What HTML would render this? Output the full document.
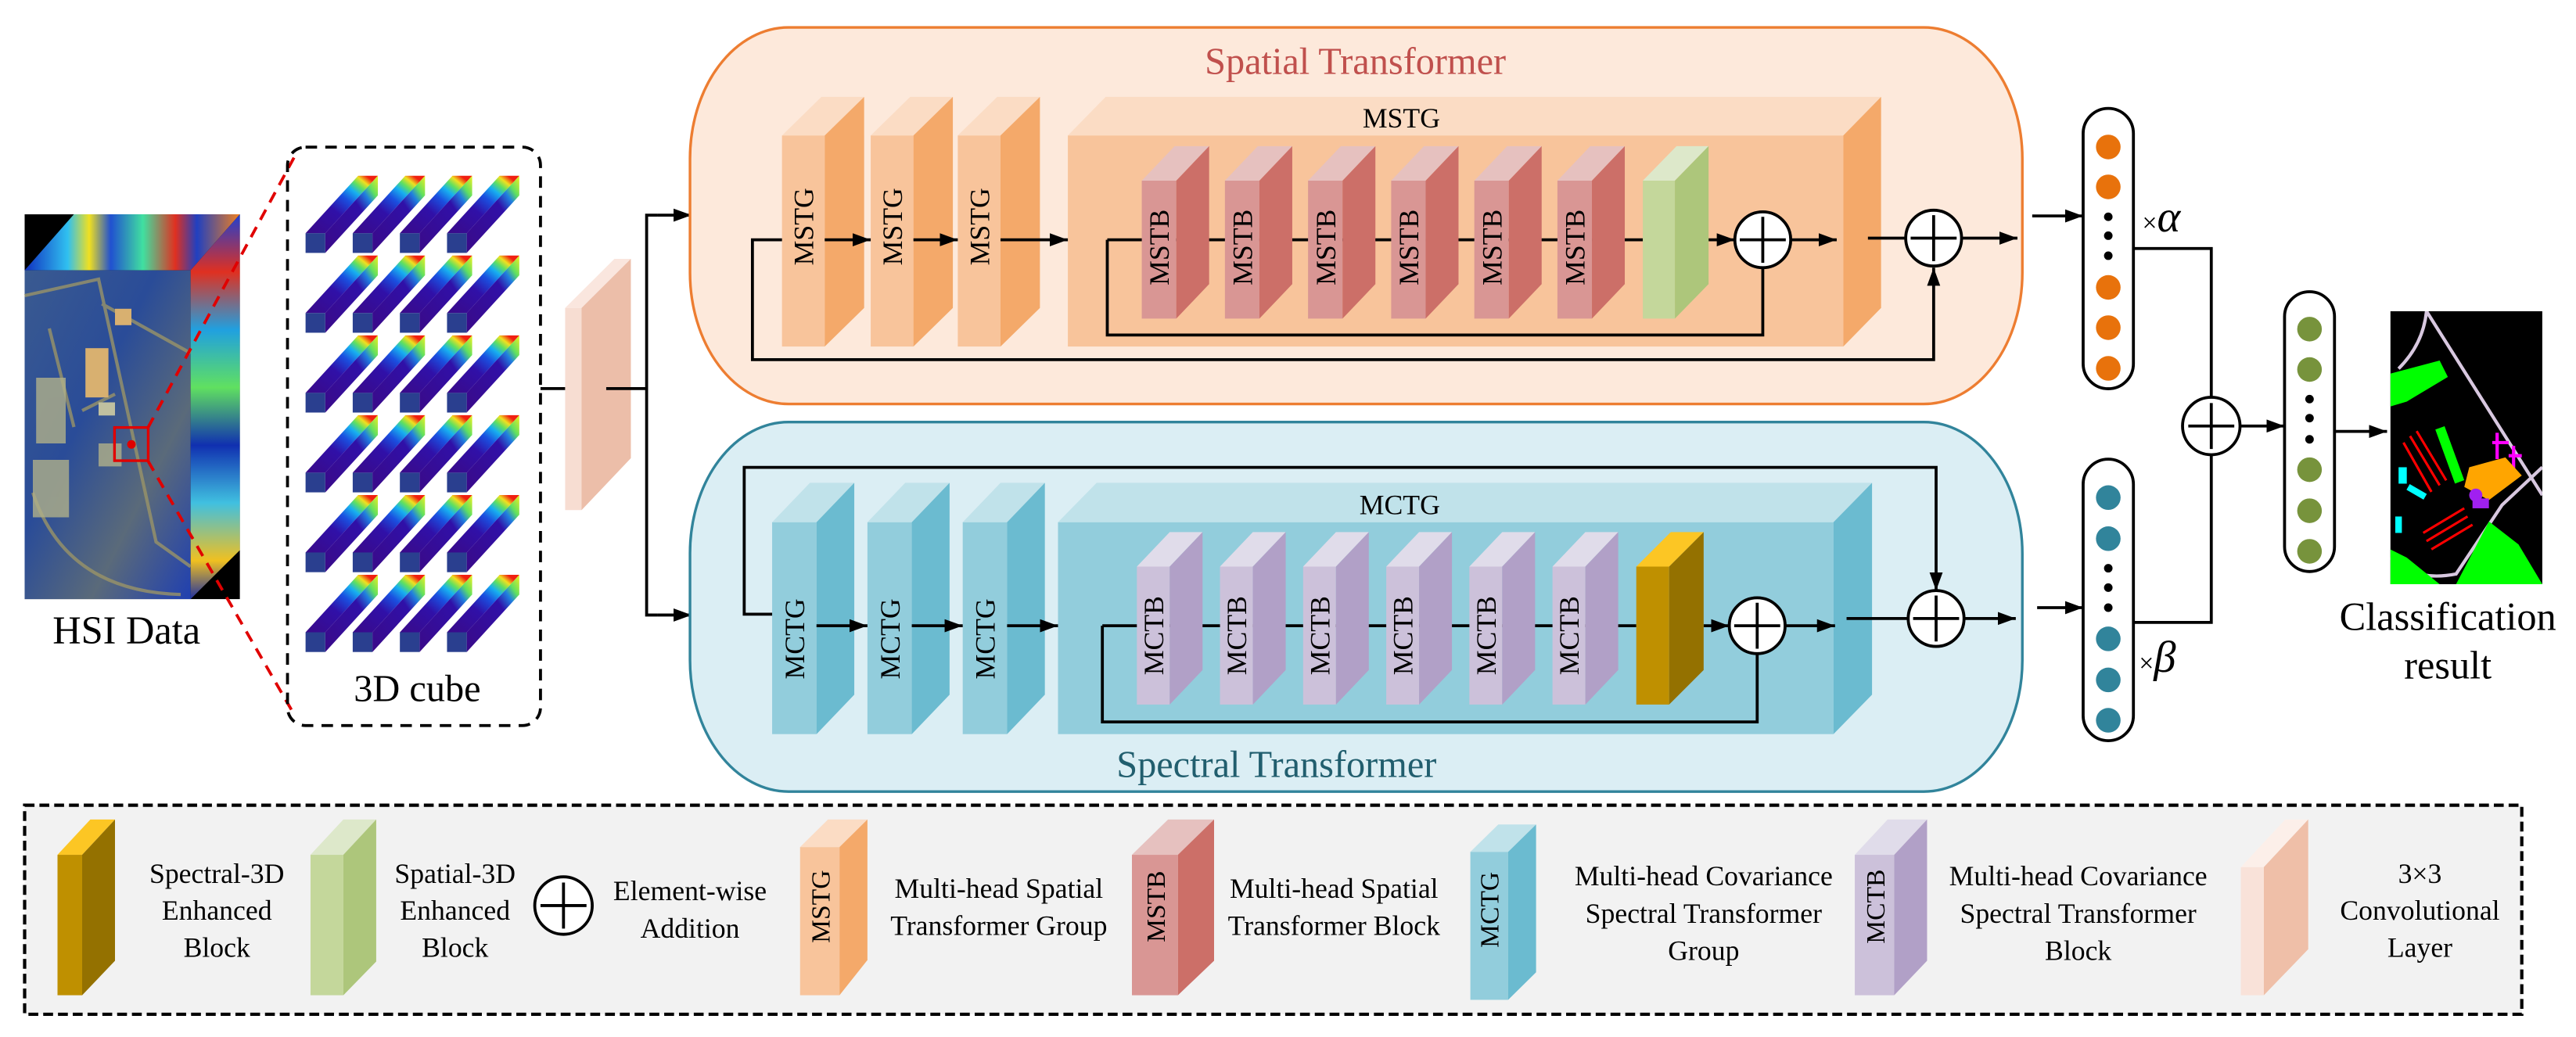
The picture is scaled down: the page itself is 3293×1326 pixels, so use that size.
<!DOCTYPE html>
<html><head><meta charset="utf-8"><style>html,body{margin:0;padding:0;background:#fff}svg{display:block}svg,svg text,svg tspan{font-family:"Liberation Serif","Times New Roman",Times,"DejaVu Serif",serif !important}</style></head>
<body>
<svg xmlns="http://www.w3.org/2000/svg" width="3293" height="1326" viewBox="0 0 1568 631.43" preserveAspectRatio="none" style="font-family:'Liberation Serif','Times New Roman',Times,serif">
<defs>
<marker id="a" viewBox="0 0 11 8" refX="11" refY="4" markerWidth="11" markerHeight="8" markerUnits="userSpaceOnUse" orient="auto"><path d="M0,0 L11,4 L0,8 z" fill="#000"/></marker>
<linearGradient id="ct" x1="0" y1="1" x2="1" y2="0"><stop offset="0" stop-color="#3a0a88"/><stop offset=".4" stop-color="#3010a8"/><stop offset=".58" stop-color="#1a50e0"/><stop offset=".7" stop-color="#18b0f0"/><stop offset=".78" stop-color="#60e060"/><stop offset=".85" stop-color="#f0e020"/><stop offset=".92" stop-color="#f02010"/></linearGradient>
<linearGradient id="cs" x1="0" y1="1" x2="1" y2="0"><stop offset="0" stop-color="#3a0a88"/><stop offset=".62" stop-color="#3010a8"/><stop offset=".76" stop-color="#2080e0"/><stop offset=".85" stop-color="#60e060"/><stop offset="1" stop-color="#f0f020"/></linearGradient>
<linearGradient id="ht" x1="0" y1="0" x2="1" y2="0"><stop offset="0" stop-color="#1030c0"/><stop offset=".2" stop-color="#30c0f0"/><stop offset=".3" stop-color="#f0e020"/><stop offset=".4" stop-color="#2050d0"/><stop offset=".55" stop-color="#40e0a0"/><stop offset=".7" stop-color="#e03020"/><stop offset=".8" stop-color="#2040c0"/><stop offset="1" stop-color="#f08020"/></linearGradient>
<linearGradient id="hs" x1="0" y1="0" x2="0" y2="1"><stop offset="0" stop-color="#2040d0"/><stop offset=".15" stop-color="#e03020"/><stop offset=".3" stop-color="#20a0e0"/><stop offset=".45" stop-color="#60e060"/><stop offset=".6" stop-color="#1030b0"/><stop offset=".75" stop-color="#40c0e0"/><stop offset=".9" stop-color="#f0c020"/><stop offset="1" stop-color="#2030a0"/></linearGradient>
<linearGradient id="hf" x1="0" y1="0" x2="1" y2="1"><stop offset="0" stop-color="#3a5a90"/><stop offset=".4" stop-color="#2a4c98"/><stop offset=".7" stop-color="#5a6a7a"/><stop offset="1" stop-color="#2040b0"/></linearGradient>
</defs>

<rect x="15" y="130.5" width="131" height="234.3" fill="#000"/>
<polygon points="15,164.6 116,164.6 146,130.5 45,130.5" fill="url(#ht)"/>
<polygon points="116,164.6 146,130.5 146,335 116,364.8" fill="url(#hs)"/>
<rect x="15" y="164.6" width="101" height="200.2" fill="url(#hf)"/>
<g stroke="#9a9468" stroke-width="2" fill="none" opacity=".8">
<path d="M15,180 L60,170 L95,330 L116,345"/><path d="M30,200 L45,260 M50,250 L70,240 M20,300 Q40,360 110,362"/>
<path d="M62,185 L116,215"/></g>
<g fill="#d8b070"><rect x="52" y="212" width="14" height="30"/><rect x="70" y="188" width="10" height="10"/><rect x="60" y="245" width="10" height="8" fill="#c0c0a0"/></g>
<g fill="#b0b08a" opacity=".8"><rect x="22" y="230" width="18" height="40"/><rect x="20" y="280" width="22" height="35"/><rect x="60" y="270" width="14" height="14"/></g>
<rect x="69.7" y="260.3" width="20.5" height="20.2" fill="none" stroke="#e00000" stroke-width="1.6"/>
<circle cx="80" cy="270.6" r="2.6" fill="#e00000"/>
<line x1="90" y1="260.5" x2="180.4" y2="93.3" stroke="#e00000" stroke-width="1.8" stroke-dasharray="7 5"/>
<line x1="90" y1="280.5" x2="179" y2="435" stroke="#e00000" stroke-width="1.8" stroke-dasharray="7 5"/>
<text x="77" y="392" font-size="24" text-anchor="middle">HSI Data</text>

<rect x="175" y="89.6" width="154" height="352.2" rx="11" fill="none" stroke="#000" stroke-width="1.8" stroke-dasharray="7 5"/>
<g>
<g transform="translate(186,154)"><polygon points="0,-12 32,-47 44,-47 12,-12" fill="url(#ct)"/><polygon points="12,-12 44,-47 44,-35 12,0" fill="url(#cs)"/><rect x="0" y="-12" width="12" height="12" fill="#2a3f8f"/></g>
<g transform="translate(214.7,154)"><polygon points="0,-12 32,-47 44,-47 12,-12" fill="url(#ct)"/><polygon points="12,-12 44,-47 44,-35 12,0" fill="url(#cs)"/><rect x="0" y="-12" width="12" height="12" fill="#2a3f8f"/></g>
<g transform="translate(243.4,154)"><polygon points="0,-12 32,-47 44,-47 12,-12" fill="url(#ct)"/><polygon points="12,-12 44,-47 44,-35 12,0" fill="url(#cs)"/><rect x="0" y="-12" width="12" height="12" fill="#2a3f8f"/></g>
<g transform="translate(272.1,154)"><polygon points="0,-12 32,-47 44,-47 12,-12" fill="url(#ct)"/><polygon points="12,-12 44,-47 44,-35 12,0" fill="url(#cs)"/><rect x="0" y="-12" width="12" height="12" fill="#2a3f8f"/></g>
<g transform="translate(186,202.6)"><polygon points="0,-12 32,-47 44,-47 12,-12" fill="url(#ct)"/><polygon points="12,-12 44,-47 44,-35 12,0" fill="url(#cs)"/><rect x="0" y="-12" width="12" height="12" fill="#2a3f8f"/></g>
<g transform="translate(214.7,202.6)"><polygon points="0,-12 32,-47 44,-47 12,-12" fill="url(#ct)"/><polygon points="12,-12 44,-47 44,-35 12,0" fill="url(#cs)"/><rect x="0" y="-12" width="12" height="12" fill="#2a3f8f"/></g>
<g transform="translate(243.4,202.6)"><polygon points="0,-12 32,-47 44,-47 12,-12" fill="url(#ct)"/><polygon points="12,-12 44,-47 44,-35 12,0" fill="url(#cs)"/><rect x="0" y="-12" width="12" height="12" fill="#2a3f8f"/></g>
<g transform="translate(272.1,202.6)"><polygon points="0,-12 32,-47 44,-47 12,-12" fill="url(#ct)"/><polygon points="12,-12 44,-47 44,-35 12,0" fill="url(#cs)"/><rect x="0" y="-12" width="12" height="12" fill="#2a3f8f"/></g>
<g transform="translate(186,251.2)"><polygon points="0,-12 32,-47 44,-47 12,-12" fill="url(#ct)"/><polygon points="12,-12 44,-47 44,-35 12,0" fill="url(#cs)"/><rect x="0" y="-12" width="12" height="12" fill="#2a3f8f"/></g>
<g transform="translate(214.7,251.2)"><polygon points="0,-12 32,-47 44,-47 12,-12" fill="url(#ct)"/><polygon points="12,-12 44,-47 44,-35 12,0" fill="url(#cs)"/><rect x="0" y="-12" width="12" height="12" fill="#2a3f8f"/></g>
<g transform="translate(243.4,251.2)"><polygon points="0,-12 32,-47 44,-47 12,-12" fill="url(#ct)"/><polygon points="12,-12 44,-47 44,-35 12,0" fill="url(#cs)"/><rect x="0" y="-12" width="12" height="12" fill="#2a3f8f"/></g>
<g transform="translate(272.1,251.2)"><polygon points="0,-12 32,-47 44,-47 12,-12" fill="url(#ct)"/><polygon points="12,-12 44,-47 44,-35 12,0" fill="url(#cs)"/><rect x="0" y="-12" width="12" height="12" fill="#2a3f8f"/></g>
<g transform="translate(186,299.8)"><polygon points="0,-12 32,-47 44,-47 12,-12" fill="url(#ct)"/><polygon points="12,-12 44,-47 44,-35 12,0" fill="url(#cs)"/><rect x="0" y="-12" width="12" height="12" fill="#2a3f8f"/></g>
<g transform="translate(214.7,299.8)"><polygon points="0,-12 32,-47 44,-47 12,-12" fill="url(#ct)"/><polygon points="12,-12 44,-47 44,-35 12,0" fill="url(#cs)"/><rect x="0" y="-12" width="12" height="12" fill="#2a3f8f"/></g>
<g transform="translate(243.4,299.8)"><polygon points="0,-12 32,-47 44,-47 12,-12" fill="url(#ct)"/><polygon points="12,-12 44,-47 44,-35 12,0" fill="url(#cs)"/><rect x="0" y="-12" width="12" height="12" fill="#2a3f8f"/></g>
<g transform="translate(272.1,299.8)"><polygon points="0,-12 32,-47 44,-47 12,-12" fill="url(#ct)"/><polygon points="12,-12 44,-47 44,-35 12,0" fill="url(#cs)"/><rect x="0" y="-12" width="12" height="12" fill="#2a3f8f"/></g>
<g transform="translate(186,348.4)"><polygon points="0,-12 32,-47 44,-47 12,-12" fill="url(#ct)"/><polygon points="12,-12 44,-47 44,-35 12,0" fill="url(#cs)"/><rect x="0" y="-12" width="12" height="12" fill="#2a3f8f"/></g>
<g transform="translate(214.7,348.4)"><polygon points="0,-12 32,-47 44,-47 12,-12" fill="url(#ct)"/><polygon points="12,-12 44,-47 44,-35 12,0" fill="url(#cs)"/><rect x="0" y="-12" width="12" height="12" fill="#2a3f8f"/></g>
<g transform="translate(243.4,348.4)"><polygon points="0,-12 32,-47 44,-47 12,-12" fill="url(#ct)"/><polygon points="12,-12 44,-47 44,-35 12,0" fill="url(#cs)"/><rect x="0" y="-12" width="12" height="12" fill="#2a3f8f"/></g>
<g transform="translate(272.1,348.4)"><polygon points="0,-12 32,-47 44,-47 12,-12" fill="url(#ct)"/><polygon points="12,-12 44,-47 44,-35 12,0" fill="url(#cs)"/><rect x="0" y="-12" width="12" height="12" fill="#2a3f8f"/></g>
<g transform="translate(186,397)"><polygon points="0,-12 32,-47 44,-47 12,-12" fill="url(#ct)"/><polygon points="12,-12 44,-47 44,-35 12,0" fill="url(#cs)"/><rect x="0" y="-12" width="12" height="12" fill="#2a3f8f"/></g>
<g transform="translate(214.7,397)"><polygon points="0,-12 32,-47 44,-47 12,-12" fill="url(#ct)"/><polygon points="12,-12 44,-47 44,-35 12,0" fill="url(#cs)"/><rect x="0" y="-12" width="12" height="12" fill="#2a3f8f"/></g>
<g transform="translate(243.4,397)"><polygon points="0,-12 32,-47 44,-47 12,-12" fill="url(#ct)"/><polygon points="12,-12 44,-47 44,-35 12,0" fill="url(#cs)"/><rect x="0" y="-12" width="12" height="12" fill="#2a3f8f"/></g>
<g transform="translate(272.1,397)"><polygon points="0,-12 32,-47 44,-47 12,-12" fill="url(#ct)"/><polygon points="12,-12 44,-47 44,-35 12,0" fill="url(#cs)"/><rect x="0" y="-12" width="12" height="12" fill="#2a3f8f"/></g>
</g>
<text x="254" y="427" font-size="23" text-anchor="middle">3D cube</text>

<line x1="329" y1="236.6" x2="344" y2="236.6" stroke="#000" stroke-width="1.8"/>
<polygon points="344,187.5 354,187.5 384,157.6 374,157.6" fill="#fae6de"/>
<rect x="344" y="187.5" width="10" height="123.1" fill="#f7ddd2"/>
<polygon points="354,187.5 384,157.6 384,279 354,310.6" fill="#ecbea9"/>
<polyline points="369,236.6 393.6,236.6" fill="none" stroke="#000" stroke-width="1.8"/>
<polyline points="400,131 393.6,131 393.6,374.5 400,374.5" fill="none" stroke="#000" stroke-width="1.8"/>
<line x1="400" y1="131" x2="421" y2="131" stroke="#000" stroke-width="1.8" marker-end="url(#a)"/>
<line x1="400" y1="374.5" x2="421" y2="374.5" stroke="#000" stroke-width="1.8" marker-end="url(#a)"/>

<rect x="420" y="16.7" width="811" height="229.3" rx="60" ry="80" fill="#fde9db" stroke="#ed7d31" stroke-width="1.6"/>
<text x="825" y="45" font-size="23" text-anchor="middle" fill="#c0504d">Spatial Transformer</text>
<g>
<polygon points="476,82.5 502,82.5 526,59 500,59" fill="#fbdcc4"/><rect x="476" y="82.5" width="26" height="128.5" fill="#f8c49b"/><polygon points="502,82.5 526,59 526,187.5 502,211" fill="#f4a96a"/>
<polygon points="530,82.5 556,82.5 580,59 554,59" fill="#fbdcc4"/><rect x="530" y="82.5" width="26" height="128.5" fill="#f8c49b"/><polygon points="556,82.5 580,59 580,187.5 556,211" fill="#f4a96a"/>
<polygon points="583,82.5 609,82.5 633,59 607,59" fill="#fbdcc4"/><rect x="583" y="82.5" width="26" height="128.5" fill="#f8c49b"/><polygon points="609,82.5 633,59 633,187.5 609,211" fill="#f4a96a"/>
<polygon points="650,82.5 1122,82.5 1145,59 673,59" fill="#fbdcc4"/><rect x="650" y="82.5" width="472" height="128.5" fill="#f8c49b"/><polygon points="1122,82.5 1145,59 1145,187.5 1122,211" fill="#f4a96a"/>
</g>
<text x="853" y="77.6" font-size="17" text-anchor="middle">MSTG</text>
<g font-size="17" text-anchor="middle">
<text transform="translate(495,138) rotate(-90)">MSTG</text>
<text transform="translate(549,138) rotate(-90)">MSTG</text>
<text transform="translate(602,138) rotate(-90)">MSTG</text>
</g>
<g stroke="#000" stroke-width="1.8" fill="none">
<polyline points="476,146 458,146 458,219 1177,219 1177,163" marker-end="url(#a)"/>
<line x1="502" y1="146" x2="530" y2="146" marker-end="url(#a)"/>
<line x1="556" y1="146" x2="583" y2="146" marker-end="url(#a)"/>
<line x1="609" y1="146" x2="650" y2="146" marker-end="url(#a)"/>
<line x1="674" y1="146" x2="1000" y2="146"/>
<polyline points="674,146 674,204 1073,204 1073,163"/>
<line x1="1040" y1="146" x2="1056" y2="146" marker-end="url(#a)"/>
<line x1="1090" y1="146" x2="1118" y2="146" marker-end="url(#a)"/>
<line x1="1137" y1="145" x2="1160" y2="145"/>
<line x1="1194" y1="145" x2="1228" y2="145" marker-end="url(#a)"/>
</g>
<g>
<g transform="translate(695,0)"><polygon points="0,110 21,110 41,89 20,89" fill="#e6c1bf"/><rect x="0" y="110" width="21" height="84" fill="#d99694"/><polygon points="21,110 41,89 41,173 21,194" fill="#cc6f68"/><text transform="translate(16.5,150.6) rotate(-90)" font-size="17" text-anchor="middle">MSTB</text></g>
<g transform="translate(745.6,0)"><polygon points="0,110 21,110 41,89 20,89" fill="#e6c1bf"/><rect x="0" y="110" width="21" height="84" fill="#d99694"/><polygon points="21,110 41,89 41,173 21,194" fill="#cc6f68"/><text transform="translate(16.5,150.6) rotate(-90)" font-size="17" text-anchor="middle">MSTB</text></g>
<g transform="translate(796.2,0)"><polygon points="0,110 21,110 41,89 20,89" fill="#e6c1bf"/><rect x="0" y="110" width="21" height="84" fill="#d99694"/><polygon points="21,110 41,89 41,173 21,194" fill="#cc6f68"/><text transform="translate(16.5,150.6) rotate(-90)" font-size="17" text-anchor="middle">MSTB</text></g>
<g transform="translate(846.8,0)"><polygon points="0,110 21,110 41,89 20,89" fill="#e6c1bf"/><rect x="0" y="110" width="21" height="84" fill="#d99694"/><polygon points="21,110 41,89 41,173 21,194" fill="#cc6f68"/><text transform="translate(16.5,150.6) rotate(-90)" font-size="17" text-anchor="middle">MSTB</text></g>
<g transform="translate(897.4,0)"><polygon points="0,110 21,110 41,89 20,89" fill="#e6c1bf"/><rect x="0" y="110" width="21" height="84" fill="#d99694"/><polygon points="21,110 41,89 41,173 21,194" fill="#cc6f68"/><text transform="translate(16.5,150.6) rotate(-90)" font-size="17" text-anchor="middle">MSTB</text></g>
<g transform="translate(948,0)"><polygon points="0,110 21,110 41,89 20,89" fill="#e6c1bf"/><rect x="0" y="110" width="21" height="84" fill="#d99694"/><polygon points="21,110 41,89 41,173 21,194" fill="#cc6f68"/><text transform="translate(16.5,150.6) rotate(-90)" font-size="17" text-anchor="middle">MSTB</text></g>
<polygon points="1000,110 1019.5,110 1040,89 1020.5,89" fill="#dde8ca"/><rect x="1000" y="110" width="19.5" height="84" fill="#c4d79b"/><polygon points="1019.5,110 1040,89 1040,173 1019.5,194" fill="#adc67b"/>
</g>
<g stroke="#000" stroke-width="1.8" fill="#fff">
<circle cx="1073" cy="146" r="17"/><path d="M1059,146 H1087 M1073,132 V160" fill="none"/>
<circle cx="1177" cy="145" r="17"/><path d="M1163,145 H1191 M1177,131 V159" fill="none"/>
</g>

<rect x="420" y="257" width="811" height="225" rx="60" ry="80" fill="#dbeef4" stroke="#31849b" stroke-width="1.6"/>
<text x="777" y="473" font-size="23" text-anchor="middle" fill="#215e6e">Spectral Transformer</text>
<g>
<polygon points="470,318 497,318 520,294 493,294" fill="#c0e2ea"/><rect x="470" y="318" width="27" height="129" fill="#92cddc"/><polygon points="497,318 520,294 520,423 497,447" fill="#6bbbd0"/>
<polygon points="528,318 555,318 578,294 551,294" fill="#c0e2ea"/><rect x="528" y="318" width="27" height="129" fill="#92cddc"/><polygon points="555,318 578,294 578,423 555,447" fill="#6bbbd0"/>
<polygon points="586,318 613,318 636,294 609,294" fill="#c0e2ea"/><rect x="586" y="318" width="27" height="129" fill="#92cddc"/><polygon points="613,318 636,294 636,423 613,447" fill="#6bbbd0"/>
<polygon points="644,318 1116,318 1139.5,294 667.5,294" fill="#c0e2ea"/><rect x="644" y="318" width="472" height="129" fill="#92cddc"/><polygon points="1116,318 1139.5,294 1139.5,423 1116,447" fill="#6bbbd0"/>
</g>
<text x="852" y="313" font-size="17" text-anchor="middle">MCTG</text>
<g font-size="17" text-anchor="middle">
<text transform="translate(489.5,389) rotate(-90)">MCTG</text>
<text transform="translate(547.5,389) rotate(-90)">MCTG</text>
<text transform="translate(605.5,389) rotate(-90)">MCTG</text>
</g>
<g stroke="#000" stroke-width="1.8" fill="none">
<polyline points="470,374 453,374 453,284.6 1178.5,284.6 1178.5,359.6" marker-end="url(#a)"/>
<line x1="497" y1="381" x2="528" y2="381" marker-end="url(#a)"/>
<line x1="555" y1="381" x2="586" y2="381" marker-end="url(#a)"/>
<line x1="613" y1="381" x2="644" y2="381" marker-end="url(#a)"/>
<line x1="671" y1="381" x2="996" y2="381"/>
<polyline points="671,381 671,439.6 1069.6,439.6 1069.6,398"/>
<line x1="1037" y1="381" x2="1052.6" y2="381" marker-end="url(#a)"/>
<line x1="1086.6" y1="381" x2="1117" y2="381" marker-end="url(#a)"/>
<line x1="1124" y1="376.6" x2="1161.5" y2="376.6"/>
<line x1="1195.5" y1="376.6" x2="1227" y2="376.6" marker-end="url(#a)"/>
</g>
<g>
<g transform="translate(692,0)"><polygon points="0,345 20,345 40,324 20,324" fill="#e0dcea"/><rect x="0" y="345" width="20" height="84" fill="#ccc1da"/><polygon points="20,345 40,324 40,408 20,429" fill="#b1a0c7"/><text transform="translate(16,387) rotate(-90)" font-size="17" text-anchor="middle">MCTB</text></g>
<g transform="translate(742.6,0)"><polygon points="0,345 20,345 40,324 20,324" fill="#e0dcea"/><rect x="0" y="345" width="20" height="84" fill="#ccc1da"/><polygon points="20,345 40,324 40,408 20,429" fill="#b1a0c7"/><text transform="translate(16,387) rotate(-90)" font-size="17" text-anchor="middle">MCTB</text></g>
<g transform="translate(793.2,0)"><polygon points="0,345 20,345 40,324 20,324" fill="#e0dcea"/><rect x="0" y="345" width="20" height="84" fill="#ccc1da"/><polygon points="20,345 40,324 40,408 20,429" fill="#b1a0c7"/><text transform="translate(16,387) rotate(-90)" font-size="17" text-anchor="middle">MCTB</text></g>
<g transform="translate(843.8,0)"><polygon points="0,345 20,345 40,324 20,324" fill="#e0dcea"/><rect x="0" y="345" width="20" height="84" fill="#ccc1da"/><polygon points="20,345 40,324 40,408 20,429" fill="#b1a0c7"/><text transform="translate(16,387) rotate(-90)" font-size="17" text-anchor="middle">MCTB</text></g>
<g transform="translate(894.4,0)"><polygon points="0,345 20,345 40,324 20,324" fill="#e0dcea"/><rect x="0" y="345" width="20" height="84" fill="#ccc1da"/><polygon points="20,345 40,324 40,408 20,429" fill="#b1a0c7"/><text transform="translate(16,387) rotate(-90)" font-size="17" text-anchor="middle">MCTB</text></g>
<g transform="translate(945,0)"><polygon points="0,345 20,345 40,324 20,324" fill="#e0dcea"/><rect x="0" y="345" width="20" height="84" fill="#ccc1da"/><polygon points="20,345 40,324 40,408 20,429" fill="#b1a0c7"/><text transform="translate(16,387) rotate(-90)" font-size="17" text-anchor="middle">MCTB</text></g>
<polygon points="996,345 1016,345 1037,324 1017,324" fill="#fcc624"/><rect x="996" y="345" width="20" height="84" fill="#bf9000"/><polygon points="1016,345 1037,324 1037,408 1016,429" fill="#947100"/>
</g>
<g stroke="#000" stroke-width="1.8" fill="#fff">
<circle cx="1069.6" cy="381" r="17"/><path d="M1055.6,381 H1083.6 M1069.6,367 V395" fill="none"/>
<circle cx="1178.5" cy="376.6" r="17"/><path d="M1164.5,376.6 H1192.5 M1178.5,362.6 V390.6" fill="none"/>
</g>

<g stroke="#000" stroke-width="1.8" fill="none">
<line x1="1237" y1="131.5" x2="1268" y2="131.5" marker-end="url(#a)"/>
<line x1="1240" y1="370" x2="1268" y2="370" marker-end="url(#a)"/>
<polyline points="1298.6,151.3 1346,151.3 1346,241.9"/>
<polyline points="1298.6,379 1346,379 1346,276.9"/>
<line x1="1363.5" y1="259.4" x2="1390.6" y2="259.4" marker-end="url(#a)"/>
<line x1="1421" y1="262.7" x2="1453" y2="262.7" marker-end="url(#a)"/>
</g>
<rect x="1268" y="66" width="30.6" height="170.7" rx="15.3" fill="#fff" stroke="#000" stroke-width="1.8"/>
<g fill="#e8720c"><circle cx="1283.3" cy="89.5" r="7.5"/><circle cx="1283.3" cy="113.8" r="7.5"/><circle cx="1283.3" cy="175" r="7.5"/><circle cx="1283.3" cy="199.5" r="7.5"/><circle cx="1283.3" cy="224.3" r="7.5"/></g>
<g fill="#000"><circle cx="1283.3" cy="132" r="2.6"/><circle cx="1283.3" cy="143.5" r="2.6"/><circle cx="1283.3" cy="155.7" r="2.6"/></g>
<rect x="1268" y="279.6" width="30.6" height="171.4" rx="15.3" fill="#fff" stroke="#000" stroke-width="1.8"/>
<g fill="#31849b"><circle cx="1283.3" cy="303" r="7.5"/><circle cx="1283.3" cy="328" r="7.5"/><circle cx="1283.3" cy="389" r="7.5"/><circle cx="1283.3" cy="414" r="7.5"/><circle cx="1283.3" cy="438.6" r="7.5"/></g>
<g fill="#000"><circle cx="1283.3" cy="346" r="2.6"/><circle cx="1283.3" cy="357.8" r="2.6"/><circle cx="1283.3" cy="370" r="2.6"/></g>
<text x="1304" y="141"><tspan font-size="16">×</tspan><tspan font-size="27" font-style="italic">α</tspan></text>
<text x="1302" y="409"><tspan font-size="16">×</tspan><tspan font-size="27" font-style="italic">β</tspan></text>
<g stroke="#000" stroke-width="1.8" fill="#fff">
<circle cx="1346" cy="259.4" r="17.5"/><path d="M1332,259.4 H1360 M1346,245.4 V273.4" fill="none"/>
</g>
<rect x="1390.6" y="177.6" width="30.4" height="170.4" rx="15.2" fill="#fff" stroke="#000" stroke-width="1.8"/>
<g fill="#77933c"><circle cx="1405.8" cy="200.4" r="7.5"/><circle cx="1405.8" cy="225" r="7.5"/><circle cx="1405.8" cy="286" r="7.5"/><circle cx="1405.8" cy="311" r="7.5"/><circle cx="1405.8" cy="335.7" r="7.5"/></g>
<g fill="#000"><circle cx="1405.8" cy="243" r="2.6"/><circle cx="1405.8" cy="254.6" r="2.6"/><circle cx="1405.8" cy="267.5" r="2.6"/></g>

<svg x="1455" y="189.5" width="92.5" height="166.2" viewBox="0 0 92.5 166.2">
<rect width="92.5" height="166.2" fill="#000"/>
<path d="M22,0 L92.5,112 M5,35 Q20,20 22,0 M0,150 Q15,165 40,160 Q60,130 68,118 L92.5,95" stroke="#d8c8e0" stroke-width="2" fill="none"/>
<polygon points="0,38 30,30 35,40 10,55 0,58" fill="#00ff00"/>
<polygon points="40,166.2 60,128 78,142 92.5,166.2" fill="#00ff00"/>
<polygon points="0,145 0,166.2 30,166.2 10,150" fill="#00ff00"/>
<rect x="33" y="70" width="6" height="35" transform="rotate(-20 36 87)" fill="#00ff00"/>
<g stroke="#ff0000" stroke-width="1.5"><path d="M8,80 L25,110 M12,76 L30,106 M16,73 L34,103"/><path d="M20,135 L45,120 M22,140 L47,125 M25,145 L50,130"/></g>
<g stroke="#ff00ff" stroke-width="2"><path d="M62,80 L72,80 M65,74 L65,90 M72,88 L80,88 M75,82 L75,98"/></g>
<polygon points="58,140 80,134 90,145 70,160 55,152" fill="#ffa500" transform="translate(-10,-45)"/>
<circle cx="52" cy="112" r="4" fill="#a020f0"/><rect x="50" y="114" width="10" height="6" fill="#a020f0"/>
<g fill="#00ffff"><rect x="5" y="95" width="5" height="10"/><rect x="10" y="108" width="12" height="4" transform="rotate(30 16 110)"/><rect x="3" y="125" width="4" height="10"/></g>
</svg>
<text x="1490" y="383.6" font-size="24" text-anchor="middle">Classification</text>
<text x="1490" y="413" font-size="24" text-anchor="middle">result</text>

<rect x="15" y="490.3" width="1520" height="127.3" fill="#f2f2f2" stroke="#000" stroke-width="2" stroke-dasharray="6 3"/>
<polygon points="35,520.5 50,520.5 70,499 55,499" fill="#fcc624"/><rect x="35" y="520.5" width="15" height="85.5" fill="#bf9000"/><polygon points="50,520.5 70,499 70,585 50,606" fill="#947100"/>
<polygon points="189,520.5 209,520.5 229,499 209,499" fill="#dde8ca"/><rect x="189" y="520.5" width="20" height="85.5" fill="#c4d79b"/><polygon points="209,520.5 229,499 229,585.5 209,606" fill="#adc67b"/>
<polygon points="487,515.8 511,515.8 528,499 504,499" fill="#fbdcc4"/><rect x="487" y="515.8" width="24" height="90.2" fill="#f8c49b"/><polygon points="511,515.8 528,499 528,584.6 511,606" fill="#f4a96a"/>
<polygon points="689,520.5 717,520.5 739,499 711,499" fill="#e6c1bf"/><rect x="689" y="520.5" width="28" height="85.5" fill="#d99694"/><polygon points="717,520.5 739,499 739,585 717,606" fill="#cc6f68"/>
<polygon points="895,518.7 918,518.7 935,502 912,502" fill="#c0e2ea"/><rect x="895" y="518.7" width="23" height="90.1" fill="#92cddc"/><polygon points="918,518.7 935,502 935,592 918,608.8" fill="#6bbbd0"/>
<polygon points="1129,520.5 1153,520.5 1173,499 1149,499" fill="#e0dcea"/><rect x="1129" y="520.5" width="24" height="85.5" fill="#ccc1da"/><polygon points="1153,520.5 1173,499 1173,585 1153,606" fill="#b1a0c7"/>
<polygon points="1364,528 1378,528 1405,499 1391,499" fill="#fcefe9"/><rect x="1364" y="528" width="14" height="78" fill="#f9e2d9"/><polygon points="1378,528 1405,499 1405,578 1378,606" fill="#efbfa8"/>
<g font-size="16" text-anchor="middle">
<text transform="translate(505,552) rotate(-90)">MSTG</text>
<text transform="translate(709,552) rotate(-90)">MSTB</text>
<text transform="translate(912,554) rotate(-90)">MCTG</text>
<text transform="translate(1147,552) rotate(-90)">MCTB</text>
</g>
<g stroke="#000" stroke-width="1.8" fill="#fff">
<circle cx="343" cy="551.4" r="17.5"/><path d="M329,551.4 H357 M343,537.4 V565.4" fill="none"/>
</g>
<g font-size="17" text-anchor="middle">
<text x="132" y="537.6">Spectral-3D</text><text x="132" y="560">Enhanced</text><text x="132" y="582.6">Block</text>
<text x="277" y="537.6">Spatial-3D</text><text x="277" y="560">Enhanced</text><text x="277" y="582.6">Block</text>
<text x="420" y="548">Element-wise</text><text x="420" y="571">Addition</text>
<text x="608" y="546.6">Multi-head Spatial</text><text x="608" y="569.2">Transformer Group</text>
<text x="812" y="546.6">Multi-head Spatial</text><text x="812" y="569.2">Transformer Block</text>
<text x="1037" y="539">Multi-head Covariance</text><text x="1037" y="562">Spectral Transformer</text><text x="1037" y="584.5">Group</text>
<text x="1265" y="539">Multi-head Covariance</text><text x="1265" y="562">Spectral Transformer</text><text x="1265" y="584.5">Block</text>
<text x="1473" y="537.6">3×3</text><text x="1473" y="560">Convolutional</text><text x="1473" y="582.6">Layer</text>
</g>
</svg>
</body></html>
